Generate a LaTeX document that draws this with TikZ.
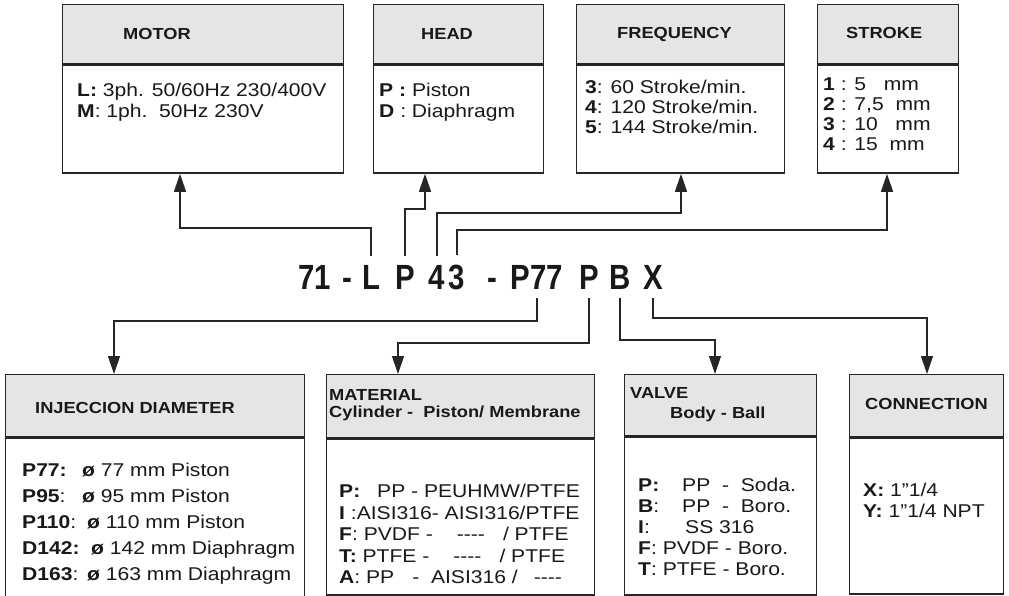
\documentclass[tikz,border=0pt]{standalone}
\usepackage{fontspec}
\setmainfont{Liberation Sans}[FakeStretch=1.14]
\newfontfamily\codefont{Liberation Sans}[FakeStretch=0.84]
\usepackage{tikz}
\usetikzlibrary{arrows.meta, positioning}

\begin{document}
\begin{tikzpicture}[
    x=1pt, y=-1pt,
    conn/.style={-{Triangle[length=18pt, width=12pt]}, line width=1.2pt, black!85},
    hdbox/.style={rectangle, draw=black!85, line width=1.4pt, fill=black!10, inner sep=0pt},
    bdbox/.style={rectangle, draw=black!85, line width=1.4pt, fill=white, inner sep=0pt},
    hdtxt/.style={font=\fontsize{16}{17}\selectfont\bfseries, text=black!90, inner sep=0pt, align=left},
    item/.style={font=\fontsize{18.5}{#1}\selectfont, text=black!90, inner sep=0pt, align=left, anchor=north west},
    codech/.style={font=\codefont\fontsize{35}{38}\selectfont\bfseries, text=black!90, inner xsep=0pt, inner ysep=9pt, anchor=base}
]
    \useasboundingbox (0,0) rectangle (1009,595);

    % top boxes
    \node[hdbox, anchor=north west, minimum width=281pt, minimum height=59pt] (motorHead) at (62,4) {};
    \node[bdbox, minimum width=281pt, minimum height=108pt, below=0pt of motorHead] (motorBody) {};
    \node[hdbox, anchor=north west, minimum width=170pt, minimum height=59pt] (headHead) at (373,4) {};
    \node[bdbox, minimum width=170pt, minimum height=108pt, below=0pt of headHead] (headBody) {};
    \node[hdbox, anchor=north west, minimum width=208pt, minimum height=59pt] (freqHead) at (576,4) {};
    \node[bdbox, minimum width=208pt, minimum height=108pt, below=0pt of freqHead] (freqBody) {};
    \node[hdbox, anchor=north west, minimum width=141pt, minimum height=59pt] (strokeHead) at (817,4) {};
    \node[bdbox, minimum width=141pt, minimum height=108pt, below=0pt of strokeHead] (strokeBody) {};

    \node[hdtxt, anchor=base west] (motorTitle) at (123,39.5) {MOTOR};
    \node[hdtxt, anchor=base west] (headTitle) at (421,39.5) {HEAD};
    \node[hdtxt, anchor=base west] (freqTitle) at (617,38.5) {FREQUENCY};
    \node[hdtxt, anchor=base west] (strokeTitle) at (846,38.5) {STROKE};

    \node[item=21pt] (motorText) at (77,83) {\textbf{L:} 3ph. 50/60Hz 230/400V\\\textbf{M}: 1ph.\ \ 50Hz 230V};
    \node[item=21pt] (headText) at (379,83) {\textbf{P :} Piston\\\textbf{D} : Diaphragm};
    \node[item=20pt] (freqText) at (585,80) {\textbf{3}: 60 Stroke/min.\\\textbf{4}: 120 Stroke/min.\\\textbf{5}: 144 Stroke/min.};
    \node[item=20pt] (strokeText) at (823,78) {\textbf{1} : 5\ \ \ mm\\\textbf{2} : 7,5\ \ mm\\\textbf{3} : 10\ \ \ mm\\\textbf{4} : 15\ \ mm};

    % code
    \node[codech] (code71) at (315,289) {71};
    \node[codech] (codeDa) at (347,289) {-};
    \node[codech] (codeL) at (371,289) {L};
    \node[codech] (codeP) at (405,289) {P};
    \node[codech] (code4) at (437,289) {4};
    \node[codech] (code3) at (457,289) {3};
    \node[codech] (codeDb) at (492,289) {-};
    \node[codech] (codeP77) at (537,289) {P77};
    \node[codech] (codeM) at (589,289) {P};
    \node[codech] (codeV) at (620,289) {B};
    \node[codech] (codeX) at (653,289) {X};

    % bottom boxes
    \node[hdbox, anchor=north west, minimum width=299pt, minimum height=62pt] (injHead) at (5,374) {};
    \node[bdbox, minimum width=299pt, minimum height=170pt, below=0pt of injHead] (injBody) {};
    \node[hdbox, anchor=north west, minimum width=268pt, minimum height=63pt] (matHead) at (326,374) {};
    \node[bdbox, minimum width=268pt, minimum height=156pt, below=0pt of matHead] (matBody) {};
    \node[hdbox, anchor=north west, minimum width=192pt, minimum height=61pt] (valveHead) at (624,374) {};
    \node[bdbox, minimum width=192pt, minimum height=158pt, below=0pt of valveHead] (valveBody) {};
    \node[hdbox, anchor=north west, minimum width=154pt, minimum height=62pt] (connHead) at (849,374) {};
    \node[bdbox, minimum width=154pt, minimum height=156pt, below=0pt of connHead] (connBody) {};

    \node[hdtxt, anchor=base west] (injTitle) at (35,413.5) {INJECCION DIAMETER};
    \node[hdtxt, anchor=north west] (matTitle) at (329,389) {MATERIAL\\Cylinder -\ \ Piston/ Membrane};
    \node[hdtxt, anchor=north west, font=\fontsize{16}{20}\selectfont\bfseries] (valveTitle) at (630,387) {VALVE\\\hspace*{40pt}Body - Ball};
    \node[hdtxt, anchor=base west] (connTitle) at (865,409.5) {CONNECTION};

    \node[item=26pt] (injText) at (22,463) {%
        \makebox[60pt][l]{\textbf{P77:}}\textbf{ø} 77 mm Piston\\
        \makebox[60pt][l]{\textbf{P95}:}\textbf{ø} 95 mm Piston\\
        \makebox[65pt][l]{\textbf{P110}:}\textbf{ø} 110 mm Piston\\
        \makebox[69pt][l]{\textbf{D142:}}\textbf{ø} 142 mm Diaphragm\\
        \makebox[65pt][l]{\textbf{D163}:}\textbf{ø} 163 mm Diaphragm};
    \node[item=21.5pt] (matText) at (339,484) {%
        \makebox[38pt][l]{\textbf{P:}}PP - PEUHMW/PTFE\\
        \textbf{I} :AISI316- AISI316/PTFE\\
        \textbf{F}: PVDF -\hspace{24pt}{-}{-}{-}{-}\hspace{18pt}/ PTFE\\
        \textbf{T:} PTFE -\hspace{24pt}{-}{-}{-}{-}\hspace{18pt}/ PTFE\\
        \textbf{A}: PP\hspace{18pt}-\ \ AISI316 /\hspace{16pt}{-}{-}{-}{-}};
    \node[item=21pt] (valveText) at (638,478) {%
        \makebox[44pt][l]{\textbf{P:}}PP\ \ -\ \ Soda.\\
        \makebox[44pt][l]{\textbf{B}:}PP\ \ -\ \ Boro.\\
        \makebox[47pt][l]{\textbf{I}:}SS 316\\
        \textbf{F}: PVDF - Boro.\\
        \textbf{T}: PTFE - Boro.};
    \node[item=21pt] (connText) at (863,483) {\textbf{X:} 1”1/4\\\textbf{Y:} 1”1/4 NPT};

    % connectors
    \draw[conn] (codeL.north) |- (180,228) -- (motorBody.south -| 180,0);
    \draw[conn] (codeP.north) |- (425,209) -- (headBody.south -| 425,0);
    \draw[conn] (code4.north) |- (681,213) -- (freqBody.south -| 681,0);
    \draw[conn] (code3.north) |- (887,230) -- (strokeBody.south -| 887,0);

    \draw[conn] (codeP77.south) |- (114,321) -- (injHead.north -| 114,0);
    \draw[conn] (codeM.south) |- (398,343) -- (matHead.north -| 398,0);
    \draw[conn] (codeV.south) |- (715,340) -- (valveHead.north -| 715,0);
    \draw[conn] (codeX.south) |- (927,318) -- (connHead.north -| 927,0);
\end{tikzpicture}
\end{document}
